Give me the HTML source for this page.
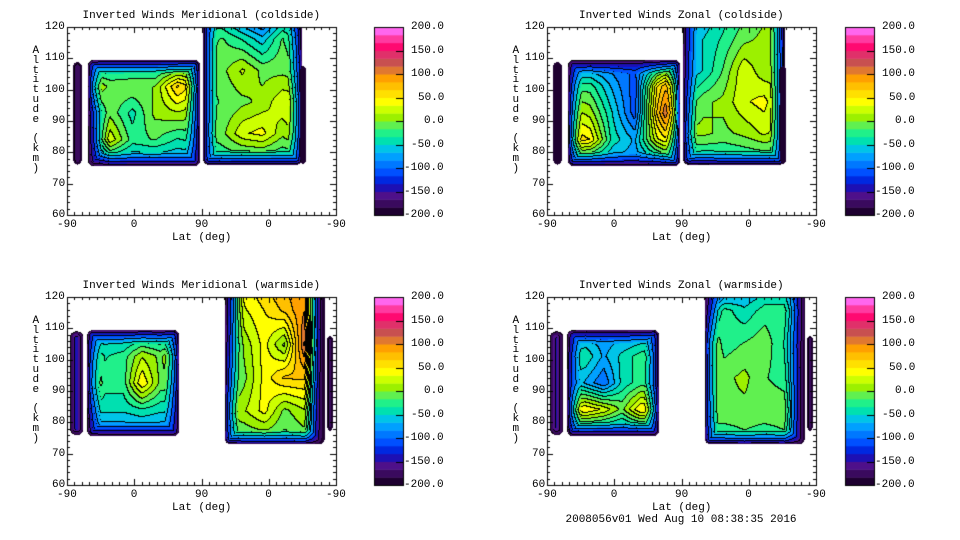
<!DOCTYPE html>
<html><head><meta charset="utf-8">
<style>
html,body{margin:0;padding:0;background:#fff;}
#root{position:relative;width:960px;height:540px;overflow:hidden;background:#fff;font-family:"Liberation Mono",monospace;color:#000;}
canvas{position:absolute;}
.t{position:absolute;font-size:11px;white-space:pre;line-height:12px;}
</style></head>
<body>
<div id="root">
<canvas id="cv" width="960" height="540" style="left:0;top:0"></canvas>
</div>
<script>
// ---- data (values in m/s) ----
const levelColors=['#1e0030','#3a0a5e','#4e108a','#1d10b4','#0028e0','#0050ff','#0078ff','#00a0ff','#00c4e8','#00e0b0','#20f08a','#60f050','#9cf000','#ccff00','#ffff00','#ffe000','#ffc000','#ffa000','#e07830','#c85050','#e0306a','#ff0a70','#ff3aa0','#ff66ee'];
const cbarTicks=[200,150,100,50,0,-50,-100,-150,-200];
const xTickLabels=['-90','0','90','0','-90'];
const yTicks=[120,110,100,90,80,70,60];
const panelTitles=['Inverted Winds Meridional (coldside)','Inverted Winds Zonal (coldside)','Inverted Winds Meridional (warmside)','Inverted Winds Zonal (warmside)'];
// region extents: [u0,u1,altBottom,altTop] ; u = 0..360 along the lat axis
const tlExtents=[[8,20,76,109],[28,178,75.5,109.5],[182,315,76,126],[312,320,76,108]];
const tlStrip=[[-150]];
const tlMain=[[-80,-60,-60,-60,-60,-40],[30,-5,0,0,70,30],[-80,-5,-40,5,15,5],[-100,30,-25,-15,-35,-25],[-130,-80,-80,-80,-80,-80]];
const tlRight=[[-50,-70,-110,-140,-80,-90],[-25,-15,-35,-60,-15,-45],[-30,-5,20,-5,-5,-15],[-25,-15,-5,5,30,30],[-15,-5,30,40,5,30],[-45,-35,-45,-45,-45,-45]];
const tlEdge=[[-200]];
const trExtents=[[8,20,76,109],[28,178,75.5,109.5],[182,318,76,126],[312,320,76,108]];
const trStrip=[[-190]];
const trMain=[[-110,-100,-100,-100,-80,-40],[-25,-25,-70,-110,50,130],[30,10,-50,-110,70,190],[70,50,-40,-70,30,70],[-80,-80,-80,-80,-80,-40]];
const trRight=[[-100,-70,-45,-25,-5,-5],[-80,-50,-30,-5,5,5],[-70,-50,-15,30,5,15],[-35,-5,5,30,40,5],[5,5,-5,5,20,5],[-45,-55,-45,-45,-45,-35]];
const trEdge=[[-200]];
const blExtents=[[4,22,76,109],[27,150,75.5,109.5],[211,345,73,126],[348,356,77,108]];
const blStrip=[[-110]];
const blMain=[[-80,-70,-70,-70,-70,-70],[-5,-35,-25,15,-5,40],[30,-25,-25,50,-5,-5],[-45,-45,-45,-35,-45,-45],[-100,-90,-90,-90,-90,-90]];
const blRight=[[-140,50,70,90,100,-190],[-110,30,50,70,100,-190],[-80,5,40,-5,120,-190],[-45,-5,40,70,70,-190],[5,15,40,-5,15,-190],[-35,-25,-25,-25,-15,-190]];
const blEdge=[[-150]];
const brExtents=[[4,22,76,109],[27,150,75.5,109.5],[211,345,73,126],[348,356,77,108]];
const brStrip=[[-120]];
const brMain=[[-100,-80,-80,-80,-80,-60],[-45,-35,-70,-45,-25,-15],[-35,-70,-100,-45,-25,-25],[30,50,30,-5,50,40],[-90,-90,-90,-90,-90,-90]];
const brRight=[[-150,-130,-90,-70,-70,-140],[-90,-25,-45,-25,-25,-120],[30,-25,-15,-5,-35,-140],[5,-5,5,-15,-25,-140],[-5,-5,-5,-5,-5,-150],[-35,-35,-25,-35,-25,-160]];
const brEdge=[[-140]];

const panels=[
 {name:'meridional-coldside',x0:67,y0:27,cb:374,ext:tlExtents,grids:[tlStrip,tlMain,tlRight,tlEdge]},
 {name:'zonal-coldside',x0:547,y0:27,cb:845,ext:trExtents,grids:[trStrip,trMain,trRight,trEdge]},
 {name:'meridional-warmside',x0:67,y0:297,cb:374,ext:blExtents,grids:[blStrip,blMain,blRight,blEdge]},
 {name:'zonal-warmside',x0:547,y0:297,cb:845,ext:brExtents,grids:[brStrip,brMain,brRight,brEdge]}
];
const PW=269,PH=188,RAMP=14;
function xScale(p,u){return p.x0+u/360*PW;}
function yScale(p,a){return p.y0+(120-a)/60*PH;}
function level(v){let i=Math.floor((v+200)/400*24);return Math.max(0,Math.min(23,i));}
function hex(c){return [parseInt(c.substr(1,2),16),parseInt(c.substr(3,2),16),parseInt(c.substr(5,2),16)];}
const rgb=levelColors.map(hex);
function sample(g,fx,fy){
  const ny=g.length,nx=g[0].length;
  const gx=fx*(nx-1),gy=fy*(ny-1);
  const i0=Math.max(0,Math.min(nx-1,Math.floor(gx))),j0=Math.max(0,Math.min(ny-1,Math.floor(gy)));
  const i1=Math.min(nx-1,i0+1),j1=Math.min(ny-1,j0+1);
  const tx=nx>1?gx-i0:0,ty=ny>1?gy-j0:0;
  const a=g[j0][i0]*(1-tx)+g[j0][i1]*tx,b=g[j1][i0]*(1-tx)+g[j1][i1]*tx;
  return a*(1-ty)+b*ty;
}
const cv=document.getElementById('cv'),ctx=cv.getContext('2d');
ctx.fillStyle='#fff';ctx.fillRect(0,0,960,540);
const img=ctx.getImageData(0,0,960,540);
for(const p of panels){
  const W=PW,H=PH;const lv=new Int16Array(W*H).fill(-1);const inr=new Uint8Array(W*H);
  p.ext.forEach((e,ri)=>{
    const g=p.grids[ri];
    const xa=xScale(p,e[0]),xb=xScale(p,e[1]),ya=yScale(p,e[3]),yb=yScale(p,e[2]);
    for(let py=0;py<H;py++)for(let px=0;px<W;px++){
      const X=p.x0+px+0.5,Y=p.y0+py+0.5;
      if(X<xa||X>xb||Y<ya||Y>yb)continue;
      const dx=Math.min(X-xa,xb-X),dy=Math.min(Y-ya,yb-Y);
      let d=Math.min(dx,dy);
      const cr=6;
      if(dx<cr&&dy<cr){const q=cr-Math.hypot(cr-dx,cr-dy);if(q<0)continue;d=q;}
      let r=Math.min(1,d/RAMP);
      r=Math.pow(r,0.6);
      const iv=sample(g,(X-xa)/(xb-xa),(Y-ya)/(yb-ya));
      const v=-200+(iv+200)*r;
      lv[py*W+px]=level(v);
      inr[py*W+px]=r<1?1:0;
    }
  });
  for(let py=0;py<H;py++)for(let px=0;px<W;px++){
    const L=lv[py*W+px];if(L<0)continue;
    let c=rgb[L];
    const r=px+1<W?lv[py*W+px+1]:-1,b=py+1<H?lv[(py+1)*W+px]:-1;
    const diff=(r>=0&&r!==L)||(b>=0&&b!==L);
    if(diff&&(!inr[py*W+px]||L%2===0))c=[0,0,0];
    const k=((p.y0+py)*960+p.x0+px)*4;
    img.data[k]=c[0];img.data[k+1]=c[1];img.data[k+2]=c[2];img.data[k+3]=255;
  }
}
ctx.putImageData(img,0,0);
ctx.strokeStyle='#000';ctx.lineWidth=1;
for(const p of panels){
  ctx.strokeRect(p.x0+0.5,p.y0+0.5,PW,PH);
  ctx.beginPath();
  for(let u=0;u<=360;u+=10){const x=Math.round(xScale(p,u))+0.5;const L=u%90===0?6:3;
    ctx.moveTo(x,p.y0+PH);ctx.lineTo(x,p.y0+PH-L);ctx.moveTo(x,p.y0);ctx.lineTo(x,p.y0+L);}
  for(let a=60;a<=120;a+=2){const y=Math.round(yScale(p,a))+0.5;const L=a%10===0?6:3;
    ctx.moveTo(p.x0,y);ctx.lineTo(p.x0+L,y);ctx.moveTo(p.x0+PW,y);ctx.lineTo(p.x0+PW-L,y);}
  ctx.stroke();
  const bh=PH/24;
  for(let i=0;i<24;i++){ctx.fillStyle=levelColors[i];ctx.fillRect(p.cb,p.y0+PH-(i+1)*bh,29,bh+0.5);}
  ctx.strokeRect(p.cb+0.5,p.y0+0.5,29,PH);
  ctx.beginPath();
  cbarTicks.forEach(v=>{const y=Math.round(p.y0+(200-v)/400*PH)+0.5;ctx.moveTo(p.cb+22,y);ctx.lineTo(p.cb+29,y);});
  ctx.stroke();
}
const root=document.getElementById('root');
function txt(s,x,y,name,align){
  const d=document.createElement('div');d.className='t';d.textContent=s;
  
  
  root.appendChild(d);
  const w=d.offsetWidth;
  let l=x;if(align==='c')l=x-w/2;else if(align==='r')l=x-w;
  d.style.left=l+'px';d.style.top=(y-6)+'px';
}
panels.forEach((p,pi)=>{
  txt(panelTitles[pi],p.x0+PW/2,p.y0-11,'panel-title','c');
  xTickLabels.forEach((s,i)=>txt(s,xScale(p,i*90),p.y0+PH+10,'x-tick-label','c'));
  yTicks.forEach(a=>txt(String(a),p.x0-2,yScale(p,a),'y-tick-label','r'));
  txt('Lat (deg)',p.x0+PW/2,p.y0+PH+23,'x-axis-title','c');
  'Altitude (km)'.split('').forEach((ch,i)=>txt(ch,p.x0-31,p.y0+24+i*9.8,'y-axis-title-char','c'));
  cbarTicks.forEach(v=>txt(v.toFixed(1),p.cb+70,p.y0+(200-v)/400*PH,'colorbar-label','r'));
});
txt('2008056v01 Wed Aug 10 08:38:35 2016',681,520,'timestamp-footer','c');
</script>
</body></html>
